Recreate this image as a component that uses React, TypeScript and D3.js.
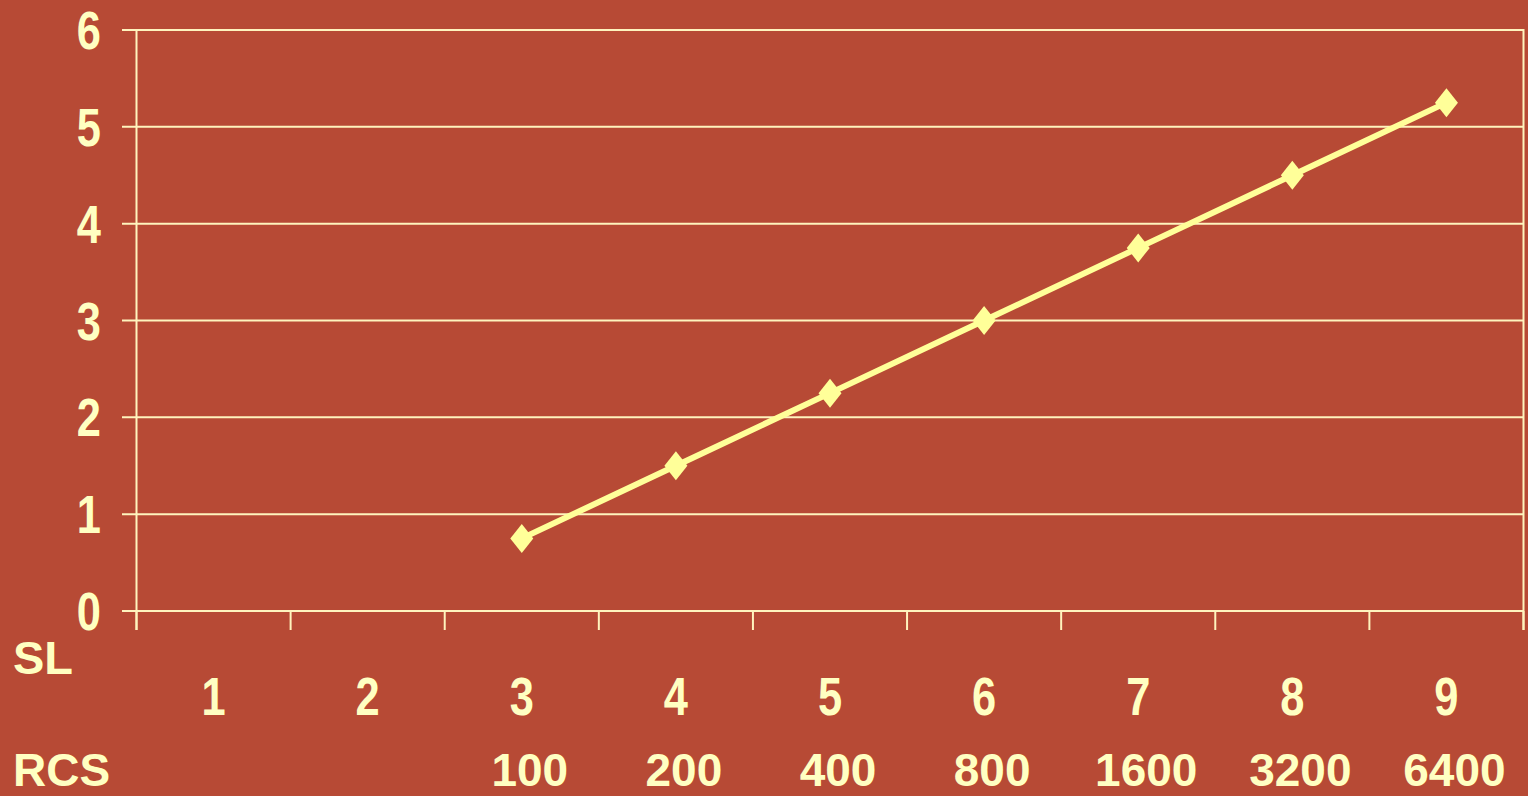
import React from "react";
import * as d3 from "d3";

const categories = ["1", "2", "3", "4", "5", "6", "7", "8", "9"];
const slValues: (number | null)[] = [null, null, 0.75, 1.5, 2.25, 3, 3.75, 4.5, 5.25];
const rcsLabels = ["", "", "100", "200", "400", "800", "1600", "3200", "6400"];
const yTicks = [0, 1, 2, 3, 4, 5, 6];

const W = 1528;
const H = 796;
const BG = "#B74A35";
const TEXT = "#FFFFC2";
const GRID = "#FFF4BE";
const LINE = "#FFFF99";

export default function App() {
  const left = 136.5;
  const right = 1523.5;
  const top = 30;
  const bottom = 611;

  const x = d3.scaleBand<string>().domain(categories).range([left, right]).padding(0);
  const y = d3.scaleLinear().domain([0, 6]).range([bottom, top]);

  const pts = categories
    .map((c, i) => ({ c, v: slValues[i] }))
    .filter((d) => d.v !== null) as { c: string; v: number }[];

  const line = d3
    .line<{ c: string; v: number }>()
    .x((d) => (x(d.c) as number) + x.bandwidth() / 2)
    .y((d) => y(d.v));

  const edges = categories.map((c) => x(c) as number).concat([right]);

  const boldFont = "'Liberation Sans', Arial, sans-serif";
  const sx = 0.82;

  return (
    <svg
      width={W}
      height={H}
      style={{ position: "absolute", left: 0, top: 0, display: "block" }}
    >
      <rect x={0} y={0} width={W} height={H} fill={BG} />
      {/* gridlines */}
      {yTicks.map((t) => (
        <line key={"g" + t} x1={122} x2={right} y1={y(t)} y2={y(t)} stroke={GRID} strokeWidth={2} />
      ))}
      {/* left axis */}
      <line x1={left} x2={left} y1={top} y2={630} stroke={GRID} strokeWidth={2} />
      {/* right border */}
      <line x1={right} x2={right} y1={top - 1} y2={630} stroke={GRID} strokeWidth={2} />
      {/* x ticks */}
      {edges.map((e, i) => (
        <line key={"xt" + i} x1={e} x2={e} y1={bottom} y2={630} stroke={GRID} strokeWidth={2} />
      ))}
      {/* y labels */}
      {yTicks.map((t) => (
        <text
          key={"yl" + t}
          transform={`translate(101,${y(t)}) scale(${sx},1)`}
          dy="0.36em"
          textAnchor="end"
          fill={TEXT}
          fontFamily={boldFont}
          fontWeight="bold"
          fontSize={53}
        >
          {t}
        </text>
      ))}
      {/* category labels */}
      {categories.map((c) => (
        <text
          key={"cl" + c}
          transform={`translate(${(x(c) as number) + x.bandwidth() / 2},715) scale(${sx},1)`}
          textAnchor="middle"
          fill={TEXT}
          fontFamily={boldFont}
          fontWeight="bold"
          fontSize={53}
        >
          {c}
        </text>
      ))}
      {/* RCS labels */}
      {categories.map((c, i) => (
        <text
          key={"rl" + c}
          x={(x(c) as number) + x.bandwidth() / 2 + 8}
          y={786}
          textAnchor="middle"
          fill={TEXT}
          fontFamily={boldFont}
          fontWeight="bold"
          fontSize={46}
        >
          {rcsLabels[i]}
        </text>
      ))}
      <text x={13} y={674} fill={TEXT} fontFamily={boldFont} fontWeight="bold" fontSize={47}>
        SL
      </text>
      <text x={13} y={786} fill={TEXT} fontFamily={boldFont} fontWeight="bold" fontSize={46}>
        RCS
      </text>
      {/* series */}
      <path d={line(pts) || ""} fill="none" stroke={LINE} strokeWidth={6} />
      {pts.map((d) => {
        const cx = (x(d.c) as number) + x.bandwidth() / 2;
        const cy = y(d.v);
        return (
          <path
            key={"m" + d.c}
            d={`M${cx},${cy - 14.5}L${cx + 11.5},${cy}L${cx},${cy + 14.5}L${cx - 11.5},${cy}Z`}
            fill={LINE}
          />
        );
      })}
    </svg>
  );
}
